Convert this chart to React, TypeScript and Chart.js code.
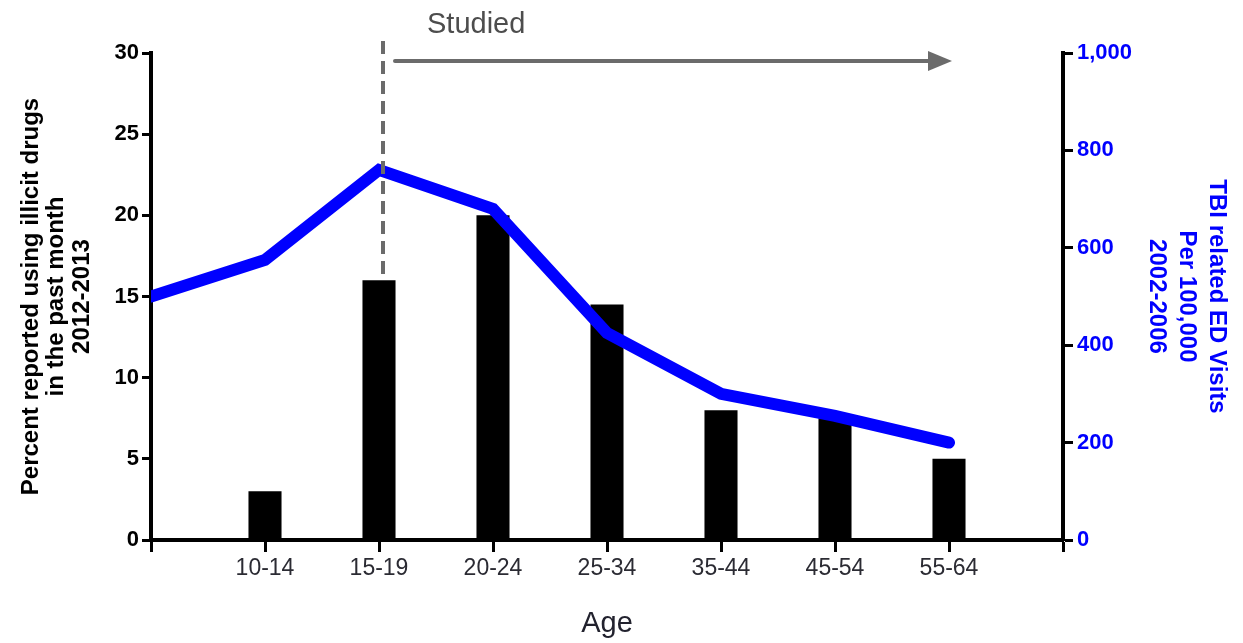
import { useEffect, useRef } from "react";
import { Chart, registerables } from "chart.js";

Chart.register(...registerables);

const ageGroups = ["", "10-14", "15-19", "20-24", "25-34", "35-44", "45-54", "55-64", ""];
const drugUsePercent = [null, 3, 16, 20, 14.5, 8, 7.5, 5, null];
const tbiVisits = [500, 575, 760, 680, 425, 300, 255, 200, null];
const leftTitle = ["Percent reported using illicit drugs", "in the past month", "2012-2013"];
const rightTitle = ["TBI related ED Visits", "Per 100,000", "2002-2006"];
const xTitle = "Age";
const studiedLabel = "Studied";
const studiedStartIndex = 2;
const studiedEndIndex = 7;

const FONT = "'Liberation Sans', Arial, Helvetica, sans-serif";

const annotationPlugin = {
  id: "studiedAnnotation",
  afterDatasetsDraw(chart: any) {
    const { ctx, chartArea, scales } = chart;
    const x = scales.x;
    const yL = scales.yLeft;
    const xs = x.getPixelForValue(studiedStartIndex) + 4;
    const xe = x.getPixelForValue(studiedEndIndex) + 3;
    ctx.save();
    // dashed vertical line
    ctx.strokeStyle = "#6b6b6b";
    ctx.lineWidth = 4;
    ctx.setLineDash([13, 7]);
    ctx.beginPath();
    ctx.moveTo(xs, chartArea.top - 12);
    ctx.lineTo(xs, yL.getPixelForValue(drugUsePercent[studiedStartIndex] as number));
    ctx.stroke();
    ctx.setLineDash([]);
    // arrow
    const ay = chartArea.top + 8;
    ctx.strokeStyle = "#6b6b6b";
    ctx.fillStyle = "#6b6b6b";
    ctx.lineWidth = 4;
    ctx.lineCap = "round";
    ctx.beginPath();
    ctx.moveTo(xs + 12, ay);
    ctx.lineTo(xe - 20, ay);
    ctx.stroke();
    ctx.beginPath();
    ctx.moveTo(xe, ay);
    ctx.lineTo(xe - 24, ay - 10);
    ctx.lineTo(xe - 24, ay + 10);
    ctx.closePath();
    ctx.fill();
    // label
    ctx.font = `29px ${FONT}`;
    ctx.fillStyle = "#4d4d4d";
    ctx.textAlign = "left";
    ctx.textBaseline = "alphabetic";
    ctx.fillText(studiedLabel, xs + 44, 33);
    ctx.restore();
  },
};

export default function App() {
  const canvasRef = useRef<HTMLCanvasElement | null>(null);

  useEffect(() => {
    if (!canvasRef.current) return;
    const chart = new Chart(canvasRef.current, {
      data: {
        labels: ageGroups,
        datasets: [
          {
            type: "line",
            label: "TBI related ED Visits",
            data: tbiVisits,
            yAxisID: "yRight",
            borderColor: "#0000ff",
            borderWidth: 12,
            borderCapStyle: "round",
            pointRadius: 0,
            tension: 0,
            fill: false,
            clip: 0,
            order: 1,
          } as any,
          {
            type: "bar",
            label: "Percent reported using illicit drugs",
            data: drugUsePercent,
            yAxisID: "yLeft",
            backgroundColor: "#000000",
            borderWidth: 0,
            categoryPercentage: 1,
            barPercentage: 0.29,
            order: 2,
          } as any,
        ],
      },
      options: {
        animation: false,
        responsive: true,
        maintainAspectRatio: false,
        layout: { padding: { top: 53, left: 0, right: 0, bottom: 0 } },
        plugins: { legend: { display: false }, tooltip: { enabled: false } },
        scales: {
          x: {
            type: "category",
            offset: false,
            grid: {
              offset: false,
              drawOnChartArea: false,
              drawTicks: true,
              tickLength: 12,
              tickWidth: 3,
              color: "#000",
            },
            border: { display: true, color: "#000", width: 4 },
            ticks: {
              color: "#2b2b33",
              font: { family: FONT, size: 23 },
              padding: 3,
              maxRotation: 0,
              autoSkip: false,
            },
            title: {
              display: true,
              text: xTitle,
              color: "#22222e",
              font: { family: FONT, size: 29 },
              padding: { top: 0, bottom: 2 },
            },
            afterFit: (s: any) => {
              s.height = 103;
            },
          },
          yLeft: {
            type: "linear",
            position: "left",
            min: 0,
            max: 30,
            ticks: {
              stepSize: 5,
              color: "#000",
              font: { family: FONT, size: 22, weight: "bold" },
              padding: 3,
            },
            grid: {
              drawOnChartArea: false,
              drawTicks: true,
              tickLength: 9,
              tickWidth: 3,
              color: "#000",
            },
            border: { display: true, color: "#000", width: 4 },
            title: {
              display: true,
              text: leftTitle,
              color: "#000",
              font: { family: FONT, size: 24, weight: "bold", lineHeight: 1.05 },
              padding: { top: 19, bottom: 0 },
            },
            afterFit: (s: any) => {
              s.width = 151;
            },
          },
          yRight: {
            type: "linear",
            position: "right",
            min: 0,
            max: 1000,
            ticks: {
              stepSize: 200,
              color: "#0000ff",
              font: { family: FONT, size: 22, weight: "bold" },
              padding: 4,
              callback: (v: any) => Number(v).toLocaleString("en-US"),
            },
            grid: {
              drawOnChartArea: false,
              drawTicks: true,
              tickLength: 10,
              tickWidth: 3,
              color: "#000",
            },
            border: { display: true, color: "#000", width: 4 },
            title: {
              display: true,
              text: rightTitle,
              color: "#0000ff",
              font: { family: FONT, size: 24, weight: "bold", lineHeight: 1.25 },
              padding: { top: 11, bottom: 0 },
            },
            afterFit: (s: any) => {
              s.width = 180;
            },
          },
        },
      } as any,
      plugins: [annotationPlugin],
    });
    return () => chart.destroy();
  }, []);

  return (
    <div style={{ position: "absolute", left: 0, top: 0, width: 1243, height: 643, background: "#fff" }}>
      <canvas ref={canvasRef} />
    </div>
  );
}
